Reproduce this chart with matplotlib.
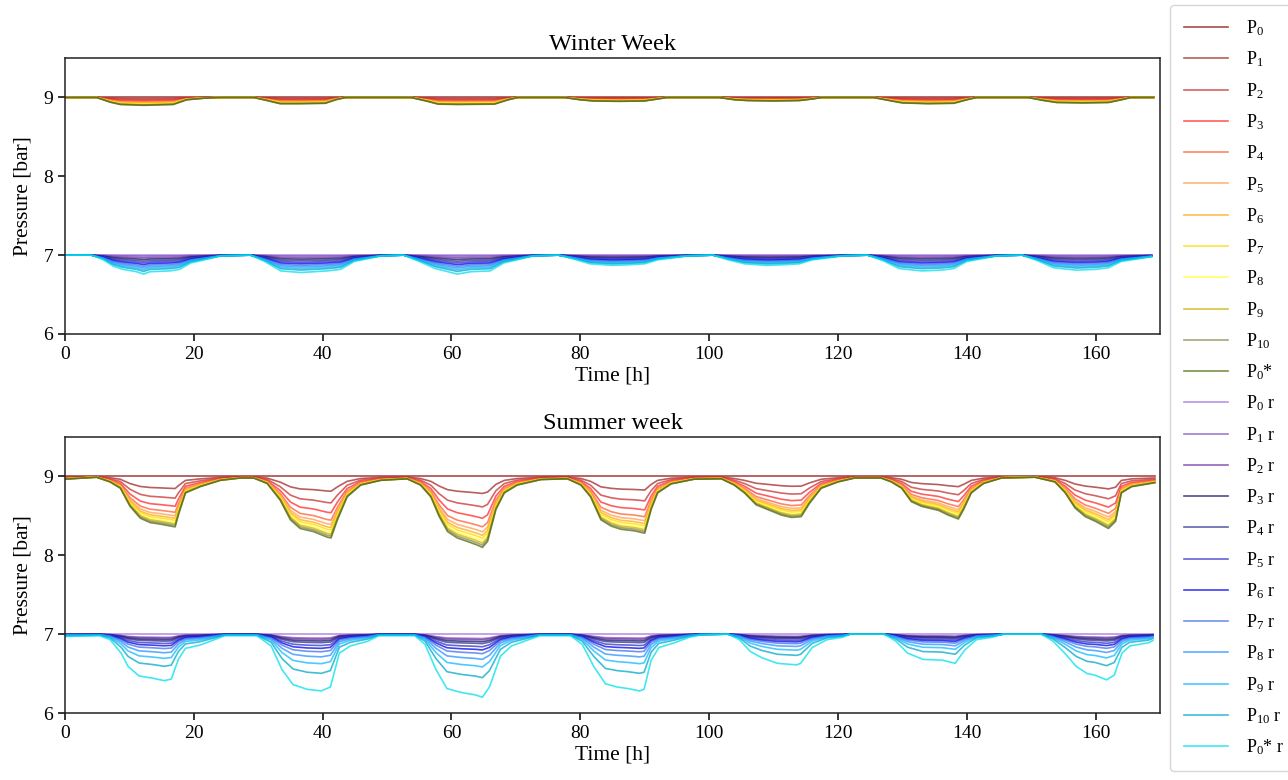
import numpy as np
import matplotlib
matplotlib.use("Agg")
import matplotlib.pyplot as plt

plt.rcParams['font.family'] = ['Liberation Serif', 'DejaVu Serif']
plt.rcParams['mathtext.fontset'] = 'custom'
plt.rcParams['mathtext.rm'] = 'Liberation Serif'
plt.rcParams['mathtext.it'] = 'Liberation Serif:italic'
plt.rcParams['mathtext.bf'] = 'Liberation Serif:bold'

# ---------------- data ----------------
warm_labels = [r'P$_0$', r'P$_1$', r'P$_2$', r'P$_3$', r'P$_4$', r'P$_5$', r'P$_6$',
               r'P$_7$', r'P$_8$', r'P$_9$', r'P$_{10}$', r'P$_0$*']
cool_labels = [r'P$_0$ r', r'P$_1$ r', r'P$_2$ r', r'P$_3$ r', r'P$_4$ r', r'P$_5$ r',
               r'P$_6$ r', r'P$_7$ r', r'P$_8$ r', r'P$_9$ r', r'P$_{10}$ r', r'P$_0$* r']

warm_colors = ['#8b1010', '#a02828', '#c83030', '#ff2a2a', '#ff6030', '#ffa050',
               '#ffaa10', '#ffd800', '#ffff30', '#cdb000', '#8b864e', '#4f6a10']
cool_colors = ['#a070e0', '#8050c0', '#7030a0', '#14146e', '#303090', '#3030c8',
               '#0000f0', '#4070e8', '#2890ff', '#10b8ff', '#00a8c8', '#00e0f0']

# Winter week: deepest warm curve (P0*)
winter_warm_t = [0, 4.9, 7, 8.6, 12.2, 16.8, 18.9, 21.5, 24,
                 29.3, 31.4, 33.4, 36.5, 40.4, 42, 43.6, 48,
                 53.7, 56.3, 57.9, 61, 66.7, 68.8, 70.3, 74,
                 77.5, 80, 82, 86, 90, 92, 93.5, 98,
                 101.5, 104, 106, 110, 114, 116, 117.5, 122,
                 125.5, 128, 130, 134, 138, 140, 141.5, 146,
                 149.5, 152, 154, 158, 162, 164, 165.5, 169]
winter_warm_deep = [9.0, 9.0, 8.94, 8.91, 8.90, 8.91, 8.97, 8.99, 9.0,
                    9.0, 8.96, 8.92, 8.92, 8.925, 8.97, 9.0, 9.0,
                    9.0, 8.95, 8.915, 8.91, 8.915, 8.97, 9.0, 9.0,
                    9.0, 8.97, 8.955, 8.95, 8.955, 8.98, 9.0, 9.0,
                    9.0, 8.97, 8.96, 8.955, 8.96, 8.98, 9.0, 9.0,
                    9.0, 8.96, 8.93, 8.92, 8.925, 8.97, 9.0, 9.0,
                    9.0, 8.96, 8.935, 8.93, 8.935, 8.97, 9.0, 9.0]
winter_warm_frac = [0, 0.15, 0.3, 0.42, 0.55, 0.65, 0.72, 0.8, 0.86, 0.92, 0.96, 1.0]

# Winter week: deepest return curve (P0* r)
winter_cool_t = [0, 4.1, 5.9, 7.5, 9, 11.1, 12.2, 13.2, 16.3, 17.8, 19.5, 21.6, 24.2,
                 28.8, 31, 33.5, 36.6, 40.7, 42.8, 44.9, 49.1,
                 52.6, 55, 57.5, 60.9, 63, 66, 68.1, 72.7,
                 76.6, 79, 81.5, 85, 88, 90, 92, 96.7,
                 100.6, 103, 105.5, 109, 112, 114, 116, 120.7,
                 124.6, 127, 129.5, 133, 136, 138, 140, 144.7,
                 148.6, 151, 153.5, 157, 160, 162, 164, 168.7]
winter_cool_deep = [7.0, 7.0, 6.945, 6.86, 6.82, 6.79, 6.76, 6.79, 6.80, 6.82, 6.90, 6.94, 6.99,
                    7.0, 6.92, 6.80, 6.78, 6.80, 6.82, 6.92, 6.99,
                    7.0, 6.92, 6.83, 6.76, 6.79, 6.80, 6.90, 6.99,
                    7.0, 6.95, 6.89, 6.87, 6.88, 6.89, 6.94, 6.99,
                    7.0, 6.94, 6.89, 6.87, 6.88, 6.89, 6.94, 6.99,
                    7.0, 6.93, 6.83, 6.80, 6.81, 6.83, 6.92, 6.99,
                    7.0, 6.93, 6.84, 6.81, 6.82, 6.84, 6.92, 6.98]
winter_cool_frac = [0, 0.05, 0.14, 0.23, 0.32, 0.41, 0.5, 0.59, 0.68, 0.77, 0.86, 1.0]

# Summer week: deepest warm curve (P0*)
summer_warm_t = [0, 4.9, 7, 8.6, 10.1, 11.7, 13.2, 14.8, 17.1, 17.6, 18.7, 21, 24.1,
                 27.2, 29.3, 31.4, 33.4, 35, 36.5, 38.6, 40.7, 41.3, 42.3, 43.8, 45.9, 49,
                 53.1, 55.2, 56.8, 58.1, 59.4, 60.9, 62.5, 64, 64.8, 65.6, 66.9, 68.2, 70.2, 73.9,
                 78, 80.1, 81.6, 83.2, 84.8, 86.3, 88.4, 90, 91, 92, 94.1, 97.7,
                 101.9, 103.9, 105.5, 107.3, 109.1, 111.2, 112.8, 114.3, 115.6, 117.4, 120, 122.6,
                 126.7, 128.3, 129.9, 131.4, 133, 135.6, 137.1, 138.7, 139.5, 140.7, 142.6, 145.4,
                 150.6, 153.7, 155.3, 156.8, 158.4, 160, 162, 163.1, 164, 165.6, 169.2]
summer_warm_deep = [8.965, 8.99, 8.93, 8.85, 8.62, 8.47, 8.415, 8.395, 8.36, 8.51, 8.79, 8.87, 8.95,
                    8.98, 8.98, 8.91, 8.70, 8.45, 8.34, 8.30, 8.23, 8.22, 8.45, 8.74, 8.89, 8.95,
                    8.97, 8.89, 8.74, 8.49, 8.30, 8.22, 8.175, 8.13, 8.10, 8.175, 8.58, 8.79, 8.89, 8.96,
                    8.97, 8.89, 8.74, 8.45, 8.37, 8.33, 8.31, 8.28, 8.58, 8.79, 8.905, 8.965,
                    8.97, 8.89, 8.79, 8.64, 8.58, 8.51, 8.48, 8.49, 8.66, 8.85, 8.93, 8.98,
                    8.98, 8.93, 8.85, 8.68, 8.62, 8.57, 8.51, 8.46, 8.58, 8.79, 8.91, 8.98,
                    8.99, 8.93, 8.79, 8.60, 8.49, 8.43, 8.34, 8.43, 8.79, 8.87, 8.92]
summer_warm_frac = [0, 0.24, 0.43, 0.59, 0.71, 0.78, 0.83, 0.87, 0.91, 0.94, 0.97, 1.0]

# Summer week: deepest return curve (P0* r)
summer_cool_t = [0, 5.4, 7.0, 8.7, 9.8, 11.5, 13.7, 15.4, 16.5, 17.6, 18.7, 20.9, 23.2, 24.8,
                 29.8, 32.0, 33.7, 35.4, 37.6, 39.8, 41.2, 42.6, 44.3, 47.0, 48.7,
                 54.3, 55.9, 57.6, 59.3, 61.5, 63.7, 64.8, 65.9, 67.6, 69.3, 72.0, 73.7,
                 78.5, 80.3, 82.1, 83.9, 85.7, 87.4, 89.2, 89.9, 91, 92.2, 94.6, 96.9, 98.7,
                 102.9, 104.7, 106.4, 108.2, 110.6, 113.6, 114.2, 116, 118.3, 120.7, 121.9,
                 127.2, 129, 130.8, 133.2, 136.2, 138.2, 139.7, 141.5, 143.9, 145.7,
                 151.6, 153.4, 155.2, 157, 158.7, 159.9, 161.7, 162.9, 164.1, 165.3, 168.2, 168.9]
summer_cool_deep = [6.97, 6.98, 6.93, 6.76, 6.59, 6.47, 6.44, 6.41, 6.43, 6.68, 6.82, 6.86, 6.93, 6.98,
                    6.98, 6.85, 6.55, 6.36, 6.30, 6.28, 6.33, 6.76, 6.85, 6.91, 6.98,
                    6.98, 6.87, 6.55, 6.31, 6.26, 6.23, 6.20, 6.33, 6.72, 6.85, 6.93, 6.98,
                    6.98, 6.87, 6.59, 6.37, 6.33, 6.31, 6.28, 6.30, 6.67, 6.83, 6.89, 6.96, 6.99,
                    7.0, 6.93, 6.78, 6.70, 6.63, 6.61, 6.63, 6.83, 6.93, 6.96, 7.0,
                    7.0, 6.91, 6.76, 6.68, 6.67, 6.63, 6.80, 6.93, 6.96, 7.0,
                    7.0, 6.91, 6.76, 6.59, 6.50, 6.48, 6.42, 6.48, 6.76, 6.85, 6.89, 6.92]
summer_cool_frac = [0, 0.07, 0.09, 0.12, 0.15, 0.2, 0.25, 0.31, 0.4, 0.52, 0.69, 1.0]

x_ticks = [0, 20, 40, 60, 80, 100, 120, 140, 160]
y_ticks = [6, 7, 8, 9]

# ---------------- figure ----------------
W, H = 1288, 780
fig = plt.figure(figsize=(W / 100, H / 100), dpi=100)

def px_axes(l, t, r, b):
    return fig.add_axes([l / W, 1 - b / H, (r - l) / W, (b - t) / H])

ax_w = px_axes(65, 58, 1160, 334)
ax_s = px_axes(65, 437, 1160, 713)

def draw(ax, t, deep, fracs, top, colors, labels):
    t = np.asarray(t, dtype=float)
    deep = np.asarray(deep, dtype=float)
    lines = []
    for f, c, lab in zip(fracs, colors, labels):
        y = top - f * (top - deep)
        ln, = ax.plot(t, y, color=c, lw=1.2, alpha=0.75, label=lab)
        lines.append(ln)
    return lines

draw(ax_w, winter_warm_t, winter_warm_deep, winter_warm_frac, 9.0, warm_colors, warm_labels)
draw(ax_w, winter_cool_t, winter_cool_deep, winter_cool_frac, 7.0, cool_colors, cool_labels)
h1 = draw(ax_s, summer_warm_t, summer_warm_deep, summer_warm_frac, 9.0, warm_colors, warm_labels)
h2 = draw(ax_s, summer_cool_t, summer_cool_deep, summer_cool_frac, 7.0, cool_colors, cool_labels)

for ax, title in [(ax_w, 'Winter Week'), (ax_s, 'Summer week')]:
    ax.set_xlim(0, 170)
    ax.set_ylim(6, 9.5)
    ax.set_xticks(x_ticks)
    ax.set_yticks(y_ticks)
    ax.tick_params(labelsize=14, length=5, width=1.1)
    ax.set_xlabel('Time [h]', fontsize=15.5, labelpad=3)
    ax.set_ylabel('Pressure [bar]', fontsize=15.5, labelpad=8)
    ax.set_title(title, fontsize=17.5, pad=6)
    for sp in ax.spines.values():
        sp.set_linewidth(1.1)
        sp.set_color('#222222')

leg = fig.legend(h1 + h2, warm_labels + cool_labels, loc='upper left',
                 bbox_to_anchor=(1170 / W, 1 - 5 / H), borderaxespad=0,
                 fontsize=13, labelspacing=0.64, handlelength=2.45, handletextpad=1.0,
                 borderpad=0.75, frameon=True)
for lh in leg.get_lines():
    lh.set_alpha(0.75)

fig.savefig('out.png', dpi=100)
